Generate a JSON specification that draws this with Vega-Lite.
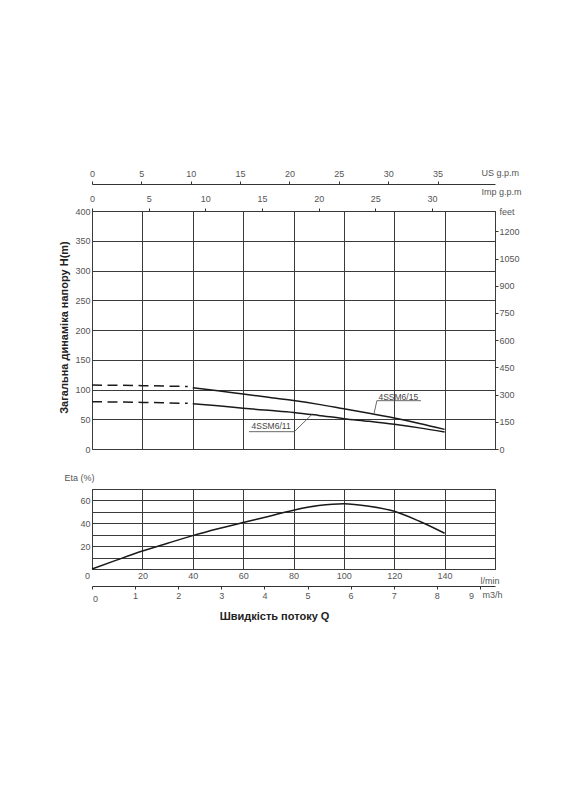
{
  "$schema": "https://vega.github.io/schema/vega-lite/v6.json",
  "padding": {"left": 57, "top": 167, "right": 0, "bottom": 0},
  "background": "white",
  "config": {
    "view": {"stroke": "#333", "strokeWidth": 1},
    "axis": {
      "labelFont": "Liberation Sans", "labelFontSize": 9, "labelColor": "#555", "labelFlush": false,
      "titleFont": "Liberation Sans", "titleFontSize": 9, "titleColor": "#555", "titleFontWeight": "normal",
      "domainColor": "#333", "tickColor": "#333", "gridColor": "#3a3a3a", "gridOpacity": 1, "gridWidth": 1, "grid": false
    }
  },
  "spacing": 17,
  "vconcat": [
    {
      "width": 403,
      "height": 238,
      "layer": [
        {
          "data": {"values": [
            {"pump": "15", "q": 40, "h": 103},
            {"pump": "15", "q": 50, "h": 98},
            {"pump": "15", "q": 60, "h": 92.4},
            {"pump": "15", "q": 70, "h": 87},
            {"pump": "15", "q": 80, "h": 81.5},
            {"pump": "15", "q": 90, "h": 75},
            {"pump": "15", "q": 100, "h": 67.5},
            {"pump": "15", "q": 110, "h": 60},
            {"pump": "15", "q": 120, "h": 52},
            {"pump": "15", "q": 130, "h": 43},
            {"pump": "15", "q": 140, "h": 33},
            {"pump": "11", "q": 40, "h": 76},
            {"pump": "11", "q": 50, "h": 72.5},
            {"pump": "11", "q": 60, "h": 68.5},
            {"pump": "11", "q": 70, "h": 65},
            {"pump": "11", "q": 80, "h": 61.5},
            {"pump": "11", "q": 90, "h": 56.5},
            {"pump": "11", "q": 100, "h": 51},
            {"pump": "11", "q": 110, "h": 46.5},
            {"pump": "11", "q": 120, "h": 41.5},
            {"pump": "11", "q": 130, "h": 35.5},
            {"pump": "11", "q": 140, "h": 28.5}
          ]},
          "mark": {"type": "line", "interpolate": "monotone", "color": "#1a1a1a", "strokeWidth": 1.5},
          "encoding": {
            "x": {"field": "q", "type": "quantitative", "scale": {"domain": [0, 160], "nice": false, "zero": false},
              "axis": {"orient": "bottom", "values": [0, 20, 40, 60, 80, 100, 120, 140, 160], "grid": true, "labels": false, "ticks": false, "domain": false, "title": null}},
            "y": {"field": "h", "type": "quantitative", "scale": {"domain": [0, 400], "nice": false},
              "axis": {"orient": "left", "values": [0, 50, 100, 150, 200, 250, 300, 350, 400], "grid": true, "ticks": false, "domain": false, "labelPadding": 2,
                "title": "Загальна динаміка напору H(m)", "titleFontSize": 11, "titleFontWeight": "bold", "titleColor": "#222",
                "titleAngle": -90, "titleX": -28, "titleY": 116, "titleAlign": "center", "titleBaseline": "middle"}},
            "detail": {"field": "pump"}
          }
        },
        {
          "data": {"values": [
            {"pump": "15", "q": 0, "h": 107.5},
            {"pump": "15", "q": 20, "h": 106.5},
            {"pump": "15", "q": 38, "h": 105},
            {"pump": "11", "q": 0, "h": 79.5},
            {"pump": "11", "q": 20, "h": 78.3},
            {"pump": "11", "q": 38, "h": 76.8}
          ]},
          "mark": {"type": "line", "interpolate": "monotone", "color": "#1a1a1a", "strokeWidth": 1.5, "strokeDash": [10, 5.5]},
          "encoding": {
            "x": {"field": "q", "type": "quantitative",
              "axis": {"orient": "top", "offset": 27, "values": [0, 19.6, 39.2, 58.8, 78.4, 98, 117.6, 137.2], "labelExpr": "format(datum.value / 3.92, '.0f')",
                "grid": false, "ticks": true, "tickSize": 3, "domain": true, "labelPadding": 3,
                "title": "US g.p.m", "titleX": 389, "titleY": -12, "titleAlign": "left", "titleBaseline": "middle", "titleAngle": 0}},
            "y": {"field": "h", "type": "quantitative",
              "axis": {"orient": "right", "values": [0, 45.72, 91.44, 137.16, 182.88, 228.6, 274.32, 320.04, 365.76], "labelExpr": "format(datum.value * 3.28084, '.0f')",
                "grid": false, "ticks": true, "tickSize": 3, "domain": false, "labelPadding": 1,
                "title": "feet", "titleX": 4, "titleY": 0, "titleAlign": "left", "titleBaseline": "middle", "titleAngle": 0}},
            "detail": {"field": "pump"}
          }
        },
        {
          "data": {"values": [
            {"label": "4SSM6/15", "q": 121.6, "h": 88},
            {"label": "4SSM6/11", "q": 71.1, "h": 39.2}
          ]},
          "mark": {"type": "text", "font": "Liberation Sans", "fontSize": 8.5, "color": "#444", "align": "center", "baseline": "middle"},
          "encoding": {
            "x": {"field": "q", "type": "quantitative",
              "axis": {"orient": "top", "offset": 0, "values": [0, 22.5, 45, 67.5, 90, 112.5, 135], "labelExpr": "format(datum.value / 4.5, '.0f')",
                "grid": false, "ticks": true, "tickSize": 3, "domain": false, "labelPadding": 5,
                "title": "Imp g.p.m", "titleX": 389, "titleY": -20, "titleAlign": "left", "titleBaseline": "middle", "titleAngle": 0}},
            "y": {"field": "h", "type": "quantitative", "axis": null},
            "text": {"field": "label"}
          }
        },
        {
          "data": {"values": [
            {"q": 113.1, "h": 81.2, "q2": 130.6, "h2": 81.2},
            {"q": 113.1, "h": 81.2, "q2": 112, "h2": 60},
            {"q": 62.3, "h": 29.1, "q2": 80.3, "h2": 29.1},
            {"q": 80.3, "h": 29.1, "q2": 87.4, "h2": 58.5}
          ]},
          "mark": {"type": "rule", "color": "#444", "strokeWidth": 0.8},
          "encoding": {
            "x": {"field": "q", "type": "quantitative", "axis": null},
            "y": {"field": "h", "type": "quantitative", "axis": null},
            "x2": {"field": "q2"},
            "y2": {"field": "h2"}
          }
        }
      ],
      "resolve": {"axis": {"x": "independent", "y": "independent"}}
    },
    {
      "width": 403,
      "height": 80,
      "title": {"text": "Швидкість потоку Q", "orient": "bottom", "font": "Liberation Sans", "fontSize": 11, "fontWeight": "bold", "color": "#222", "dx": -19, "offset": 8, "baseline": "top"},
      "layer": [
        {
          "data": {"values": [
            {"q": 0, "eta": 0},
            {"q": 10, "eta": 8},
            {"q": 20, "eta": 15.7},
            {"q": 30, "eta": 22.5},
            {"q": 40, "eta": 29.2},
            {"q": 50, "eta": 35.2},
            {"q": 60, "eta": 40.7},
            {"q": 70, "eta": 46},
            {"q": 80, "eta": 51.5},
            {"q": 90, "eta": 55.5},
            {"q": 100, "eta": 57.2},
            {"q": 110, "eta": 55},
            {"q": 120, "eta": 50.5},
            {"q": 130, "eta": 41.8},
            {"q": 140, "eta": 31.3}
          ]},
          "mark": {"type": "line", "interpolate": "monotone", "color": "#1a1a1a", "strokeWidth": 1.5},
          "encoding": {
            "x": {"field": "q", "type": "quantitative", "scale": {"domain": [0, 160], "nice": false, "zero": false},
              "axis": {"orient": "bottom", "values": [0, 20, 40, 60, 80, 100, 120, 140, 160], "labelExpr": "datum.value == 160 ? '' : datum.label",
                "grid": true, "ticks": false, "domain": false, "labelPadding": 2,
                "labelOffset": {"condition": {"test": "datum.value == 0", "value": -5}, "value": 0},
                "title": "l/min", "titleX": 388, "titleY": 11, "titleAlign": "left", "titleBaseline": "middle", "titleAngle": 0}},
            "y": {"field": "eta", "type": "quantitative", "scale": {"domain": [0, 70], "nice": false},
              "axis": {"orient": "left", "values": [0, 10, 20, 30, 40, 50, 60, 70], "labelExpr": "datum.value == 20 || datum.value == 40 || datum.value == 60 ? datum.label : ''",
                "grid": true, "ticks": false, "domain": false, "labelPadding": 2,
                "title": "Eta (%)", "titleX": -28, "titleY": -12, "titleAlign": "left", "titleBaseline": "middle", "titleAngle": 0}}
          }
        },
        {
          "data": {"values": [{"m": 0}, {"m": 9}]},
          "mark": {"type": "point", "opacity": 0},
          "encoding": {
            "x": {"field": "m", "type": "quantitative", "scale": {"domain": [0, 9.35], "nice": false, "zero": false},
              "axis": {"orient": "bottom", "offset": 17, "values": [0, 1, 2, 3, 4, 5, 6, 7, 8, 9],
                "grid": false, "ticks": true, "tickSize": 3, "domain": true,
                "labelPadding": {"condition": {"test": "datum.value == 0", "value": 5}, "value": 2},
                "labelOffset": {"condition": [{"test": "datum.value == 0", "value": 3}, {"test": "datum.value == 9", "value": -9}], "value": 0},
                "title": "m3/h", "titleX": 390, "titleY": 8, "titleAlign": "left", "titleBaseline": "middle", "titleAngle": 0}}
          }
        }
      ],
      "resolve": {"scale": {"x": "independent"}, "axis": {"x": "independent"}}
    }
  ]
}
